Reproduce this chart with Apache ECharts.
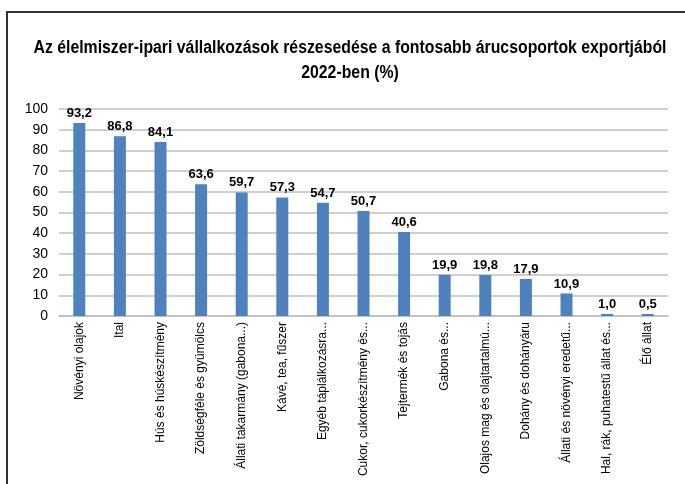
<!DOCTYPE html>
<html>
<head>
<meta charset="utf-8">
<script src="https://cdn.jsdelivr.net/npm/echarts@6/dist/echarts.min.js"></script>
<style>
	html, body { margin: 0; padding: 0; background: #fff; }
	#chart { width: 685px; height: 484px; }
</style>
</head>
<body>
<div id="chart"></div>
<script>
// kategóriák és értékek
const categories = [
	'Növényi olajok',
	'Ital',
	'Hús és húskészítmény',
	'Zöldségféle és gyümölcs',
	'Állati takarmány (gabona...)',
	'Kávé, tea, fűszer',
	'Egyéb táplálkozásra...',
	'Cukor, cukorkészítmény és...',
	'Tejtermék és tojás',
	'Gabona és...',
	'Olajos mag és olajtartalmú...',
	'Dohány és dohányáru',
	'Állati és növényi eredetű...',
	'Hal, rák, puhatestű állat és...',
	'Élő állat'
];
const values = [93.2, 86.8, 84.1, 63.6, 59.7, 57.3, 54.7, 50.7, 40.6, 19.9, 19.8, 17.9, 10.9, 1.0, 0.5];
const titleLines = [
	'Az élelmiszer-ipari vállalkozások részesedése a fontosabb árucsoportok exportjából',
	'2022-ben (%)'
];

const font = '"Liberation Sans", Arial, sans-serif';

// a cím szűkített hatása: a szélességet az eredetihez igazítjuk
const ctx = document.createElement('canvas').getContext('2d');
ctx.font = 'bold 18px "Liberation Sans"';
const titleScale = 633 / ctx.measureText(titleLines[0]).width;

const titleText = (text, y) => ({
	type: 'text',
	x: 350,
	y: y,
	scaleX: titleScale,
	style: {
		text: text,
		fontFamily: font,
		fontSize: 18,
		fontWeight: 'bold',
		fill: '#000',
		textAlign: 'center',
		textVerticalAlign: 'middle'
	}
});

const option = {
	backgroundColor: '#ffffff',
	animation: false,
	textStyle: { fontFamily: font },
	grid: {
		left: 59,
		right: 17,
		top: 109,
		bottom: 168
	},
	graphic: [
		{
			type: 'polyline',
			shape: { points: [[7, 484], [7, 12], [685, 12]] },
			style: { stroke: '#333', lineWidth: 2, fill: null }
		},
		titleText(titleLines[0], 48),
		titleText(titleLines[1], 73)
	],
	xAxis: {
		type: 'category',
		data: categories,
		axisLine: { show: true, lineStyle: { color: '#bfbfbf', width: 1.5 } },
		axisTick: { show: false },
		axisLabel: {
			interval: 0,
			rotate: 90,
			margin: 6,
			color: '#000',
			fontSize: 12,
			fontFamily: font
		}
	},
	yAxis: {
		type: 'value',
		min: 0,
		max: 100,
		interval: 10,
		axisLine: { show: false },
		axisTick: { show: false },
		axisLabel: {
			color: '#000',
			fontSize: 14,
			margin: 11,
			fontFamily: font
		},
		splitLine: { lineStyle: { color: '#bfbfbf', width: 1.5 } }
	},
	series: [{
		type: 'bar',
		data: values,
		barWidth: 12,
		barMinHeight: 2,
		itemStyle: { color: '#4f81bd' },
		label: {
			show: true,
			position: 'top',
			distance: 3,
			color: '#000',
			fontSize: 13,
			fontWeight: 'bold',
			fontFamily: font,
			formatter: p => p.value.toFixed(1).replace('.', ',')
		}
	}]
};

const chart = echarts.init(document.getElementById('chart'));
chart.setOption(option);
</script>
</body>
</html>
